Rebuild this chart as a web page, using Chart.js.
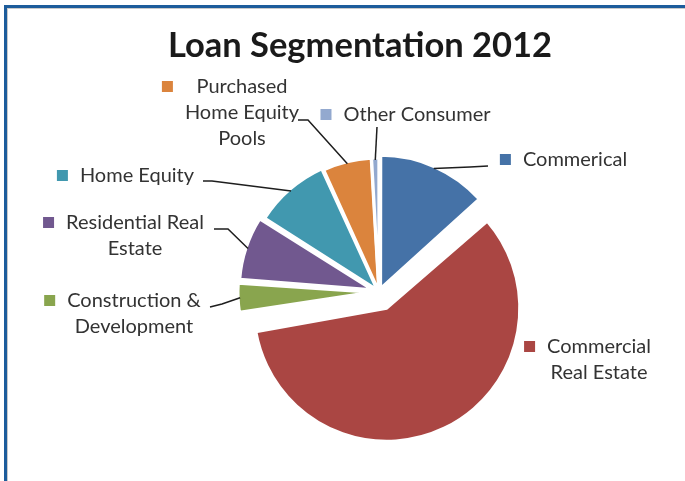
<!DOCTYPE html>
<html>
<head>
<meta charset="utf-8">
<title>Loan Segmentation 2012</title>
<script src="https://cdn.jsdelivr.net/npm/chart.js@4.4.1/dist/chart.umd.min.js"></script>
<style>
  html, body { margin: 0; padding: 0; background: #fff; }
  #wrap { position: relative; width: 685px; height: 481px; overflow: hidden; }
  #frame { position: absolute; left: 4px; top: 5px; right: -10px; bottom: -10px;
    border-top: 3px solid #1d5c9b; border-left: 3px solid #1d5c9b; }
  #frame::after { content: ''; position: absolute; left: 0; top: 0; right: 0; bottom: 0;
    border-top: 1px solid #c9c9c9; border-left: 1px solid #c9c9c9; }
  canvas { position: absolute; left: 0; top: 0; }
</style>
</head>
<body>
<div id="wrap">
  <div id="frame"></div>
  <canvas id="pie" width="685" height="481"></canvas>
</div>
<script>
// loan book split, % of total
const segments = ['Commerical', 'Commercial Real Estate', 'Construction & Development',
  'Residential Real Estate', 'Home Equity', 'Purchased Home Equity Pools', 'Other Consumer'];
const shares = [13.3, 59.2, 3.7, 7.8, 9.2, 5.9, 0.9];
const sliceColors = ['#4572a7', '#aa4643', '#89a54e', '#71588f', '#4198af', '#db843d', '#93a9cf'];
const labelLines = [['Commerical'], ['Commercial', 'Real Estate'], ['Construction &', 'Development'],
  ['Residential Real', 'Estate'], ['Home Equity'], ['Purchased', 'Home Equity', 'Pools'], ['Other Consumer']];

const pieRadius = 133;
// how far each slice is pulled out (px)
const pullOut = [4, 18, 8, 7, 3, 1, 1];

// where each label sits, and where its leader line leaves it
const labelPlace = [
  {cx: 575, y: 160, from: [488, 166], elbow: [470, 167]},
  {cx: 599, y: 347},
  {cx: 134, y: 301, from: [210, 307], elbow: [222, 304]},
  {cx: 135, y: 223, from: [214, 229], elbow: [228, 229]},
  {cx: 137, y: 176, from: [203, 181], elbow: [212, 181]},
  {cx: 242, y: 87, from: [298, 120], elbow: [308, 120]},
  {cx: 417, y: 115, from: [377, 127], elbow: null}
];

const labelFont = '20px Lato';
const textColor = '#333333';

// chart.js grows the radius of pulled-out slices, undo that so every slice keeps pieRadius
const keepRadius = {
  id: 'keepRadius',
  beforeDatasetsDraw(chart) {
    const meta = chart.getDatasetMeta(0);
    meta.data.forEach((arc, i) => {
      const off = chart.data.datasets[0].offset[i] / 4;
      const fix = 1 - Math.sin(Math.min(Math.PI, arc.circumference));
      arc.outerRadius = pieRadius - off * fix;
    });
  }
};

const titleAndLabels = {
  id: 'titleAndLabels',
  afterDraw(chart) {
    const ctx = chart.ctx;
    ctx.save();
    ctx.fillStyle = '#1a1a1a';
    ctx.font = 'bold 34.5px Lato';
    ctx.textAlign = 'center';
    ctx.textBaseline = 'alphabetic';
    ctx.fillText('Loan Segmentation 2012', 360, 57);

    const meta = chart.getDatasetMeta(0);
    ctx.font = labelFont;
    ctx.textBaseline = 'middle';
    labelPlace.forEach((p, i) => {
      const lines = labelLines[i];
      ctx.fillStyle = textColor;
      ctx.textAlign = 'center';
      let widest = 0;
      lines.forEach((t, k) => {
        widest = Math.max(widest, ctx.measureText(t).width);
        ctx.fillText(t, p.cx, p.y + k * 26);
      });
      // colour key to the left of the text block
      ctx.fillStyle = sliceColors[i];
      ctx.fillRect(p.cx - widest / 2 - 23, p.y - 6, 11, 11);

      if (!p.from) return;
      const arc = meta.data[i];
      const mid = (arc.startAngle + arc.endAngle) / 2;
      const r = pieRadius + pullOut[i] - 2;
      const ax = arc.x + Math.cos(mid) * r;
      const ay = arc.y + Math.sin(mid) * r;
      ctx.strokeStyle = '#1e1e1e';
      ctx.lineWidth = 1.5;
      ctx.beginPath();
      ctx.moveTo(p.from[0], p.from[1]);
      if (p.elbow) ctx.lineTo(p.elbow[0], p.elbow[1]);
      ctx.lineTo(ax, ay);
      ctx.stroke();
    });
    ctx.restore();
  }
};

new Chart(document.getElementById('pie'), {
  type: 'pie',
  data: {
    labels: segments,
    datasets: [{
      data: shares,
      backgroundColor: sliceColors,
      borderColor: '#ffffff',
      borderWidth: 3,
      offset: pullOut.map(v => v * 4),
      radius: pieRadius
    }]
  },
  options: {
    responsive: false,
    animation: false,
    layout: {
      padding: {left: 73, right: 0, top: 103, bottom: 0}
    },
    plugins: {
      legend: {display: false},
      title: {display: false},
      tooltip: {enabled: false}
    }
  },
  plugins: [keepRadius, titleAndLabels]
});
</script>
</body>
</html>
